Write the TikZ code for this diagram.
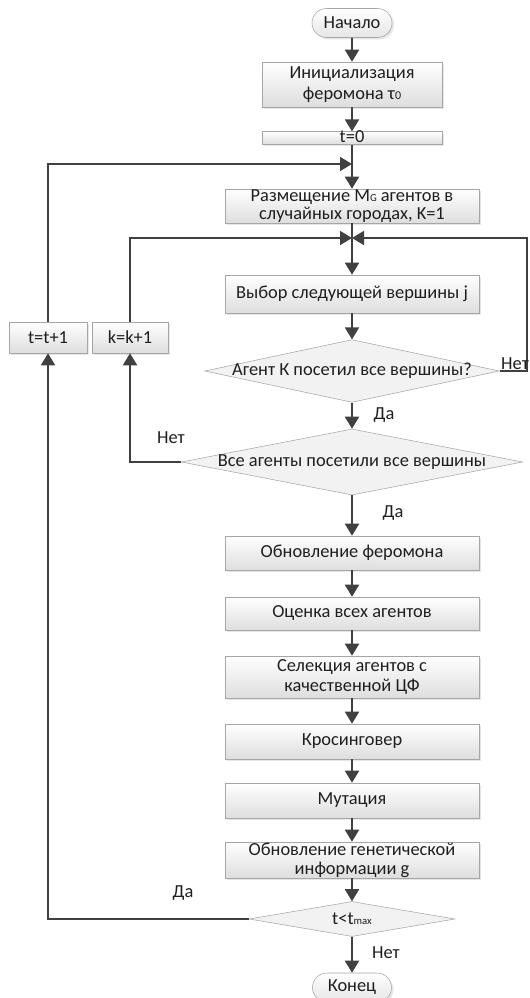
\documentclass[tikz,border=0pt]{standalone}
\usepackage{fontspec}
\setmainfont{Carlito}
\usetikzlibrary{shapes.geometric,shapes.misc,shadows,arrows.meta}
\definecolor{linegray}{HTML}{404040}
\definecolor{boxedge}{HTML}{A6A6A6}
\definecolor{txt}{HTML}{1F1F1F}

\begin{document}
\begin{tikzpicture}[x=0.75pt,y=-0.75pt,
    font=\fontsize{13.8}{15.5}\selectfont,text=txt,
    arr/.style={draw=linegray,line width=1.4pt,-{Triangle[length=9pt,width=10.5pt]}},
    blk/.style={rectangle,draw=boxedge,top color=white,bottom color=black!13,
      drop shadow={opacity=0.2,shadow xshift=1.5pt,shadow yshift=-1.5pt},
      minimum width=190.5pt,inner sep=0pt,align=center},
    term/.style={rounded rectangle,draw=boxedge,top color=white,bottom color=black!10,
      drop shadow={opacity=0.2,shadow xshift=1.5pt,shadow yshift=-1.5pt},
      minimum width=60pt,minimum height=21.75pt,inner sep=0pt},
    cond/.style={diamond,draw=boxedge,fill=black!5,inner sep=-1.5pt,align=center},
    lbl/.style={inner sep=1pt}]
  \useasboundingbox (0,0) rectangle (529,998);
  % main column
  \node[term] (start) at (352,23) {Начало};
  \node[blk,minimum width=135pt,minimum height=33.75pt] (init) at (352,84.5)
    {Инициализация\\феромона τ{\small 0}};
  \node[blk,minimum width=135pt,text height=8.5pt,text depth=1pt] (t0) at (352,138) {t=0};
  \node[blk,minimum height=25.5pt] (place) at (352,206)
    {Размещение M{\footnotesize G} агентов в\\[-2.5pt]случайных городах, K=1};
  \node[blk,minimum height=28.5pt] (choose) at (352,294) {Выбор следующей вершины j};
  \node[cond,minimum width=221pt,minimum height=47pt,aspect=4.7] (d1) at (352,371)
    {Агент К посетил все вершины?};
  \node[cond,minimum width=256pt,minimum height=49.5pt,aspect=5.2] (d2) at (352,462)
    {Все агенты посетили все вершины};
  \node[blk,minimum height=25.5pt] (upd) at (352,553) {Обновление феромона};
  \node[blk,minimum height=24.75pt] (eval) at (352,613.5) {Оценка всех агентов};
  \node[blk,minimum height=31.5pt] (sel) at (352,677) {Селекция агентов с\\качественной ЦФ};
  \node[blk,minimum height=26.25pt] (cross) at (352,741.5) {Кросинговер};
  \node[blk,minimum height=26.25pt] (mut) at (352,800.5) {Мутация};
  \node[blk,minimum height=27pt] (gen) at (352,860)
    {Обновление генетической\\[-1pt]информации g};
  \node[cond,minimum width=154.5pt,minimum height=26.25pt,aspect=5.9] (d3) at (352,919)
    {t<t{\footnotesize max}};
  \node[term,minimum width=59.25pt] (end) at (352,987.5) {Конец};
  % counters on the left
  \node[blk,minimum width=58.5pt,minimum height=23.25pt] (tinc) at (48,337.5) {t=t+1};
  \node[blk,minimum width=57pt,minimum height=23.25pt] (kinc) at (130,337.5) {k=k+1};
  \coordinate (jt) at (352,164);
  \coordinate (jk) at (352,238);
  \coordinate (rc) at (527,371);

  \foreach \a/\b in {start/init,init/t0,t0/place,place/choose,choose/d1,d1/d2,
                     d2/upd,upd/eval,eval/sel,sel/cross,cross/mut,mut/gen,gen/d3,d3/end}
    \draw[arr] (\a) -- (\b);
  \draw[arr] (tinc.north) |- (jt);
  \draw[arr] (kinc.north) |- (jk);
  \draw[arr] (d1.east) -- (rc) |- (jk);
  \draw[arr] (d2.west) -| (kinc.south);
  \draw[arr] (d3.west) -| (tinc.south);

  \node[lbl,anchor=south west] (no1) at (d1.east) {Нет};
  \node[lbl] (yes1) at (384,415) {Да};
  \node[lbl] (no2) at (171,438) {Нет};
  \node[lbl] (yes2) at (393,513) {Да};
  \node[lbl] (yes3) at (183,893) {Да};
  \node[lbl] (no3) at (386,953) {Нет};
\end{tikzpicture}
\end{document}
